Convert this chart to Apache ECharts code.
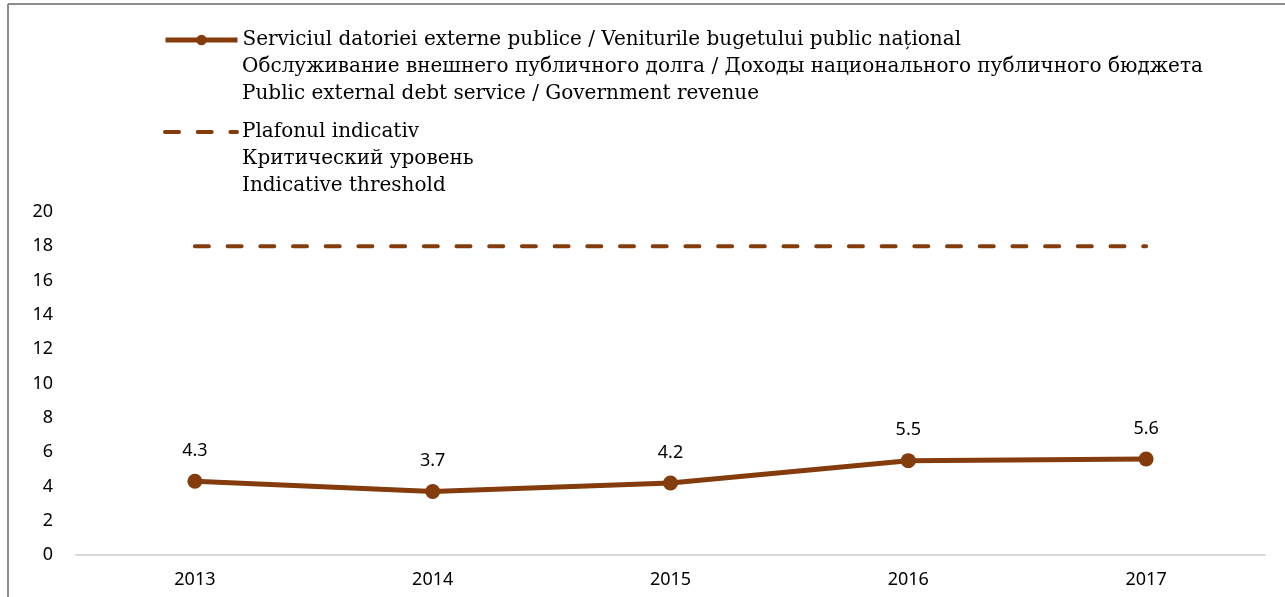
<!DOCTYPE html>
<html>
<head>
<meta charset="utf-8">
<script src="https://cdn.jsdelivr.net/npm/echarts@6/dist/echarts.min.js"></script>
<style>html,body{margin:0;padding:0;background:#fff}#c{width:1285px;height:597px}</style>
</head>
<body>
<div id="c"></div>
<script>
const categories = ['2013', '2014', '2015', '2016', '2017'];
const debtService = [4.3, 3.7, 4.2, 5.5, 5.6];
const threshold = [18, 18, 18, 18, 18];
const seriesNames = [
  'Serviciul datoriei externe publice / Veniturile bugetului public național',
  'Plafonul indicativ'
];
const seriesSubtitles = [
  ['Обслуживание внешнего публичного долга / Доходы национального публичного бюджета',
   'Public external debt service / Government revenue'],
  ['Критический уровень',
   'Indicative threshold']
];
const yMin = 0, yMax = 20, yInterval = 2;

const brown = '#843C0C';
const serif = '"DejaVu Serif", serif';
const sans = '"Noto Sans", sans-serif';
const legendFont = 20;
const lineH = 27;
const legendCenters = [40, 132];
const textX = 242;

const chart = echarts.init(document.getElementById('c'));
const legendText = { fontFamily: serif, fontSize: legendFont, color: '#000', lineHeight: lineH };

const graphic = [
  { type: 'line', shape: { x1: 8, y1: 4, x2: 1285, y2: 4 }, style: { stroke: '#8c8c8c', lineWidth: 2 }, silent: true },
  { type: 'line', shape: { x1: 8, y1: 4, x2: 8, y2: 597 }, style: { stroke: '#8c8c8c', lineWidth: 2 }, silent: true }
];
seriesSubtitles.forEach((lines, gi) => {
  lines.forEach((t, li) => {
    graphic.push({
      type: 'text', x: textX, y: legendCenters[gi] + (li + 1) * lineH, silent: true,
      style: { text: t, font: legendFont + 'px ' + serif, fill: '#000', verticalAlign: 'middle', align: 'left' }
    });
  });
});

chart.setOption({
  animation: false,
  backgroundColor: '#fff',
  grid: { left: 76, right: 20, top: 212, bottom: 42, containLabel: false },
  legend: [
    { data: [seriesNames[0]], left: 163, top: legendCenters[0] - lineH / 2, padding: 0,
      itemWidth: 72, itemHeight: 13, itemGap: 0, textStyle: legendText, selectedMode: false,
      lineStyle: { width: 5, color: brown }, itemStyle: { color: brown } },
    { data: [seriesNames[1]], left: 163, top: legendCenters[1] - lineH / 2, padding: 0,
      itemWidth: 72, itemHeight: 13, itemGap: 0, textStyle: legendText, selectedMode: false,
      lineStyle: { width: 4, color: brown, type: [14, 18.7], cap: 'round' },
      itemStyle: { color: brown, opacity: 0 } }
  ],
  xAxis: {
    type: 'category', data: categories, boundaryGap: true,
    axisLine: { lineStyle: { color: '#d9d9d9', width: 2 } },
    axisTick: { show: false },
    axisLabel: { fontFamily: sans, fontSize: 18, color: '#000', margin: 16 }
  },
  yAxis: {
    type: 'value', min: yMin, max: yMax, interval: yInterval,
    axisLine: { show: false }, axisTick: { show: false }, splitLine: { show: false },
    axisLabel: { fontFamily: sans, fontSize: 18, color: '#000', margin: 23 }
  },
  series: [
    {
      name: seriesNames[0], type: 'line', data: debtService,
      symbol: 'circle', symbolSize: 15, showSymbol: true,
      lineStyle: { color: brown, width: 5 }, itemStyle: { color: brown },
      label: { show: true, position: 'top', distance: 14, fontFamily: sans, fontSize: 18, color: '#000',
               formatter: p => p.value.toFixed(1) },
      z: 3
    },
    {
      name: seriesNames[1], type: 'line', data: threshold,
      symbol: 'none', showSymbol: false,
      lineStyle: { color: brown, width: 4, type: [14, 18.7], cap: 'round' },
      itemStyle: { color: brown },
      z: 2
    }
  ],
  graphic: graphic
});
</script>
</body>
</html>
